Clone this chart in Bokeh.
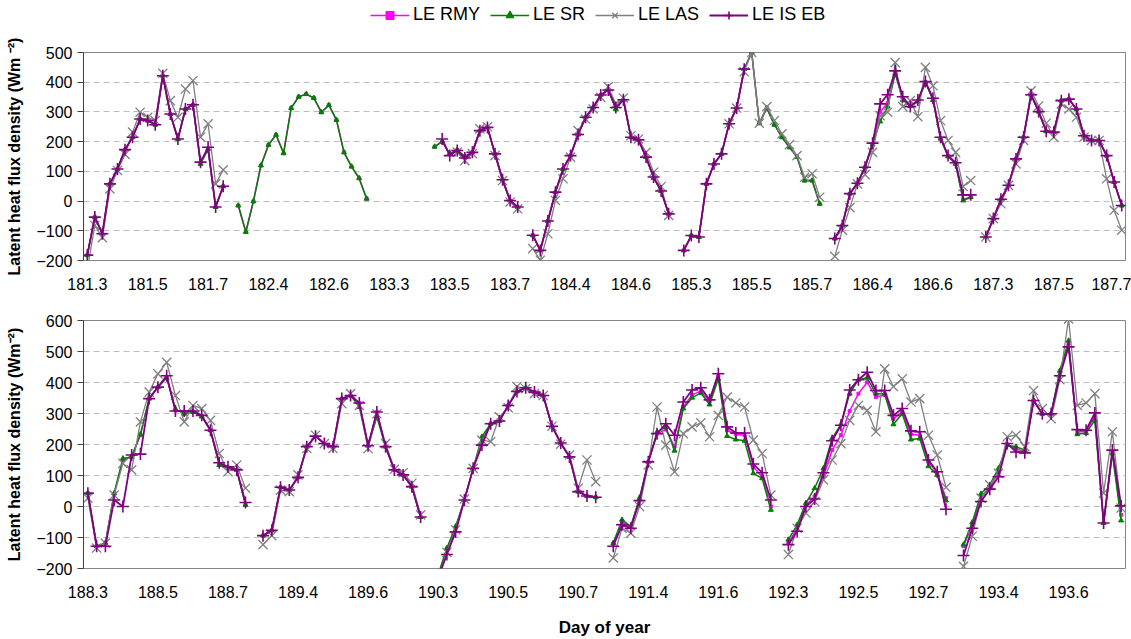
import numpy as np
from bokeh.plotting import figure
from bokeh.layouts import column
from bokeh.models import Range1d, FixedTicker, Legend, LegendItem
from bokeh.embed import file_html
from bokeh.resources import INLINE

# ---------------- data ----------------
# Each series is a list of (first category index, values) runs; gaps are nights without data.
TOP_N = 138
TOP_LABELS = ["181.3", "181.5", "181.7", "182.4", "182.6", "183.3", "183.5", "183.7", "184.4",
              "184.6", "185.3", "185.5", "185.7", "186.4", "186.6", "187.3", "187.5", "187.7"]

TOP_RMY = [
    (0, [-182, -54, -110, 58, 108, 173, 215, 276, 271, 257, 422, 293, 209, 310, 324, 127, 177, -20, 50]),
    (20, [-15, -104, -1, 120, 189, 223, 161, 313, 351, 360, 347, 299, 323, 273, 164, 116, 77, 8]),
    (46, [183, 200, 158, 172, 150, 164, 237, 248, 159, 72, 2, -20]),
    (59, [-115, -166, -67, 30, 108, 153, 224, 282, 315, 357, 374, 312, 341, 215, 206, 148, 79, 34, -43]),
    (79, [-166, -116, -121, 58, 125, 159, 260, 313, 444, 500, 262, 313, 257, 215, 181, 148, 69, 69, -9]),
    (99, [-126, -82, 25, 60, 114, 192, 300, 330, 432, 345, 320, 337, 401, 343, 212, 152, 127, 5, 15]),
    (119, [-121, -59, 6, 53, 142, 215, 358, 301, 235, 232, 338, 343, 310, 220, 204, 204, 153, 64, -15]),
]
TOP_SR = [
    (0, [-182, -54, -110, 58, 108, 173, 215, 276, 271, 257, 422, 293, 209, 310, 324, 125, 175, -20, 50]),
    (20, [-15, -104, -1, 120, 189, 223, 161, 313, 351, 360, 347, 299, 323, 273, 164, 116, 77, 8]),
    (46, [183, 200, 160, 172, 150, 164, 237, 248, 159, 72, 2, -20]),
    (59, [-115, -166, -67, 30, 108, 153, 224, 282, 315, 357, 374, 310, 341, 215, 206, 148, 78, 34, -43]),
    (79, [-166, -116, -121, 58, 125, 159, 260, 313, 444, 500, 262, 313, 257, 215, 181, 148, 69, 69, -9]),
    (99, [-126, -82, 25, 60, 114, 190, 268, 318, 430, 340, 320, 335, 400, 340, 210, 150, 125, 2, 13]),
    (119, [-121, -59, 6, 53, 142, 215, 358, 301, 235, 232, 338, 343, 310, 220, 204, 204, 153, 64, -15]),
]
TOP_LAS = [
    (0, [-230, -82, -123, 41, 103, 157, 232, 299, 282, 271, 430, 338, 282, 377, 405, 215, 260, 58, 105]),
    (49, [165, 136, 160, 243, 250, 153, 69, -3, -26]),
    (59, [-160, -199, -110, 2, 75, 148, 237, 276, 310, 349, 385, 327, 347, 220, 209, 164, 97, 49, -48]),
    (85, [260, 313, 435, 500, 262, 318, 271, 226, 190, 153, 80, 92, 13]),
    (99, [-186, -98, -22, 58, 89, 164, 287, 299, 466, 318, 338, 284, 450, 388, 271, 204, 164, 49, 69]),
    (119, [-121, -59, -9, 53, 125, 204, 371, 320, 262, 215, 327, 310, 282, 215, 204, 204, 75, -31, -98]),
]
TOP_ISEB = [
    (0, [-182, -54, -110, 58, 108, 173, 215, 276, 271, 257, 422, 293, 209, 310, 324, 131, 181, -20, 50]),
    (47, [209, 153, 170, 145, 164, 237, 248, 159, 72, 2, -20]),
    (59, [-115, -166, -67, 30, 108, 153, 224, 282, 315, 357, 374, 315, 341, 215, 206, 148, 81, 34, -43]),
    (79, [-166, -116, -121, 58, 125, 159, 260, 313, 444]),
    (99, [-126, -82, 25, 60, 114, 195, 327, 358, 438, 351, 318, 340, 402, 346, 215, 153, 129, 21, 21]),
    (119, [-121, -59, 6, 53, 142, 215, 358, 301, 235, 232, 338, 343, 310, 220, 204, 204, 153, 64, -15]),
]

BOT_N = 119
BOT_LABELS = ["188.3", "188.5", "188.7", "189.4", "189.6", "190.3", "190.5", "190.7",
              "191.4", "191.6", "192.3", "192.5", "192.7", "193.4", "193.6"]

BOT_RMY = [
    (0, [43, -128, -120, 40, 150, 162, 230, 348, 385, 418, 310, 302, 306, 292, 246, 138, 126, 118, 8]),
    (20, [-94, -77, 62, 53, 94, 193, 227, 203, 193, 348, 358, 334, 196, 305, 193, 118, 102, 64, -34]),
    (40, [-225, -140, -70, 21, 123, 212, 267, 276, 326, 371, 383, 369, 358, 259, 205, 160, 48, 34, 30]),
    (60, [-120, -50, -66, 24, 144, 235, 248, 193, 321, 360, 372, 338, 420, 246, 233, 230, 128, 96, 0]),
    (80, [-118, -70, 5, 32, 96, 182, 230, 308, 364, 401, 353, 360, 283, 305, 233, 230, 144, 107, 27]),
    (100, [-128, -60, 30, 62, 110, 200, 185, 178, 342, 299, 299, 430, 525, 240, 242, 290, -53, 176, -27]),
]
BOT_SR = [
    (0, [43, -128, -118, 43, 155, 160, 233, 348, 385, 415, 315, 299, 305, 290, 246, 134, 125, 118, 5]),
    (20, [-94, -77, 62, 53, 94, 193, 227, 203, 193, 348, 358, 321, 196, 289, 193, 118, 102, 64, -34]),
    (40, [-220, -134, -64, 21, 123, 225, 267, 276, 326, 371, 383, 369, 358, 259, 205, 160, 48, 34, 30]),
    (60, [-118, -43, -64, 27, 144, 240, 257, 180, 316, 351, 366, 329, 412, 227, 216, 212, 107, 91, -11]),
    (80, [-107, -59, 11, 59, 123, 220, 265, 364, 409, 415, 364, 364, 265, 299, 216, 219, 130, 102, 19]),
    (100, [-123, -51, 41, 70, 123, 198, 193, 182, 342, 299, 299, 438, 535, 233, 237, 278, -53, 171, -45]),
]
BOT_LAS = [
    (0, [27, -134, -118, 37, 139, 118, 273, 369, 428, 465, 358, 273, 326, 316, 278, 171, 112, 134, 59]),
    (20, [-123, -94, 53, 48, 102, 187, 230, 203, 187, 332, 364, 326, 187, 299, 203, 120, 109, 75, -27]),
    (40, [-230, -148, -75, 24, 123, 214, 209, 289, 318, 387, 380, 364, 358, 259, 201, 166, 59, 150, 80]),
    (60, [-166, -70, -86, 0, 134, 321, 198, 112, 235, 257, 270, 225, 294, 353, 334, 321, 214, 171, 37]),
    (80, [-155, -70, -21, 16, 86, 150, 203, 278, 326, 310, 241, 444, 387, 412, 337, 348, 230, 166, 62]),
    (100, [-193, -96, 27, 70, 107, 225, 230, 193, 374, 316, 283, 409, 605, 326, 334, 364, 43, 241, -5]),
]
BOT_ISEB = [
    (0, [43, -128, -128, 21, 0, 166, 169, 348, 385, 422, 308, 308, 308, 294, 246, 141, 128, 118, 13]),
    (20, [-94, -77, 62, 53, 94, 193, 227, 203, 193, 348, 358, 334, 196, 305, 193, 118, 102, 64, -34]),
    (40, [-230, -155, -82, 21, 123, 198, 267, 276, 326, 371, 383, 369, 358, 259, 205, 160, 48, 34, 30]),
    (60, [-128, -59, -70, 19, 144, 235, 267, 230, 337, 376, 383, 344, 428, 257, 237, 237, 137, 109, 21]),
    (80, [-123, -80, 0, 24, 109, 212, 262, 376, 409, 433, 374, 374, 294, 316, 244, 241, 150, 112, -9]),
    (100, [-158, -70, 16, 56, 96, 203, 176, 173, 342, 299, 299, 422, 515, 248, 246, 302, -53, 182, 2]),
]

SERIES_NAMES = ["LE RMY", "LE SR", "LE LAS", "LE IS EB"]

# ---------------- styling ----------------
FONT = "Liberation Sans"
STYLE = {
    "LE RMY": dict(color="#FF00FF", width=1.5, marker="square", size=3, mwidth=1.0),
    "LE SR": dict(color="#008000", width=1.5, marker="triangle", size=5, mwidth=1.0),
    "LE LAS": dict(color="#808080", width=1.3, marker="x", size=13, mwidth=1.3),
    "LE IS EB": dict(color="#800080", width=1.8, marker="cross", size=12, mwidth=1.6),
}


def expand(n, runs):
    arr = np.full(n, np.nan)
    for start, vals in runs:
        arr[start:start + len(vals)] = vals
    return arr


def add_series(p, name, x, y):
    st = STYLE[name]
    ln = p.line(x, y, line_color=st["color"], line_width=st["width"])
    mk = p.scatter(x, y, marker=st["marker"], size=st["size"], line_color=st["color"],
                   fill_color=st["color"], line_width=st["mwidth"])
    return ln, mk


def make_panel(n, labels, ylo, yhi, series, height, top, bottom, ylabel, xlabel=None):
    p = figure(width=1131, height=height, output_backend="svg", toolbar_location=None,
               x_range=Range1d(-0.5, n - 0.5), y_range=Range1d(ylo, yhi),
               min_border_left=83, min_border_right=6, min_border_top=top, min_border_bottom=bottom)
    p.outline_line_color = "#868686"
    p.outline_line_width = 1

    p.xgrid.visible = False
    p.ygrid.grid_line_color = "#BDBDBD"
    p.ygrid.grid_line_dash = "6 4"
    p.ygrid.grid_line_width = 1

    p.xaxis.ticker = FixedTicker(ticks=list(range(0, n, 8)))
    p.xaxis.major_label_overrides = {i * 8: lab for i, lab in enumerate(labels)}
    p.xaxis.axis_line_color = None
    p.xaxis.major_tick_line_color = None
    p.xaxis.minor_tick_line_color = None
    p.xaxis.major_tick_out = 0
    p.xaxis.major_label_standoff = 17
    p.xaxis.major_label_text_font = FONT
    p.xaxis.major_label_text_font_size = "16px"
    p.xaxis.major_label_text_color = "black"

    p.yaxis.ticker = FixedTicker(ticks=list(range(ylo, yhi + 1, 100)))
    p.yaxis.axis_line_color = "#404040"
    p.yaxis.major_tick_line_color = "#404040"
    p.yaxis.minor_tick_line_color = None
    p.yaxis.major_tick_out = 6
    p.yaxis.major_tick_in = 0
    p.yaxis.major_label_standoff = 5
    p.yaxis.major_label_text_font = FONT
    p.yaxis.major_label_text_font_size = "16px"
    p.yaxis.major_label_text_color = "black"
    p.yaxis.axis_label = ylabel
    p.yaxis.axis_label_text_font = FONT
    p.yaxis.axis_label_text_font_style = "bold"
    p.yaxis.axis_label_text_font_size = "16px"
    p.yaxis.axis_label_text_color = "black"
    p.yaxis.axis_label_standoff = 10

    if xlabel:
        p.xaxis.axis_label = xlabel
        p.xaxis.axis_label_text_font = FONT
        p.xaxis.axis_label_text_font_style = "bold"
        p.xaxis.axis_label_text_font_size = "17px"
        p.xaxis.axis_label_text_color = "black"
        p.xaxis.axis_label_standoff = 17

    x = np.arange(n)
    for name, runs in zip(SERIES_NAMES, series):
        add_series(p, name, x, expand(n, runs))
    return p


# Legend strip across the top of the page (its frame lines up with the panels below)
key = figure(width=1131, height=30, output_backend="svg", toolbar_location=None,
             x_range=Range1d(0, 1), y_range=Range1d(0, 1),
             x_axis_location=None, y_axis_location=None,
             min_border_left=83, min_border_right=6, min_border_top=0, min_border_bottom=0)
key.outline_line_color = None
key.grid.visible = False
items = []
for name in SERIES_NAMES:
    ln, mk = add_series(key, name, [np.nan], [np.nan])
    items.append(LegendItem(label=name, renderers=[ln, mk]))
key.add_layout(Legend(items=items, orientation="horizontal", location=(287, 5),
                      glyph_width=39, glyph_height=20, label_standoff=4, spacing=10,
                      padding=0, margin=0, border_line_color=None, background_fill_alpha=0,
                      label_text_font=FONT, label_text_font_size="18px",
                      label_text_color="black", label_height=20))

top = make_panel(TOP_N, TOP_LABELS, -200, 500, [TOP_RMY, TOP_SR, TOP_LAS, TOP_ISEB],
                 height=270, top=22, bottom=40,
                 ylabel="Latent heat flux density (Wm \u207b\u00b2)")

bottom = make_panel(BOT_N, BOT_LABELS, -200, 600, [BOT_RMY, BOT_SR, BOT_LAS, BOT_ISEB],
                    height=339, top=20, bottom=70,
                    ylabel="Latent heat flux density (Wm\u207b\u00b2)", xlabel="Day of year")

layout = column(key, top, bottom)
open("out.html", "w").write(file_html(layout, INLINE))
